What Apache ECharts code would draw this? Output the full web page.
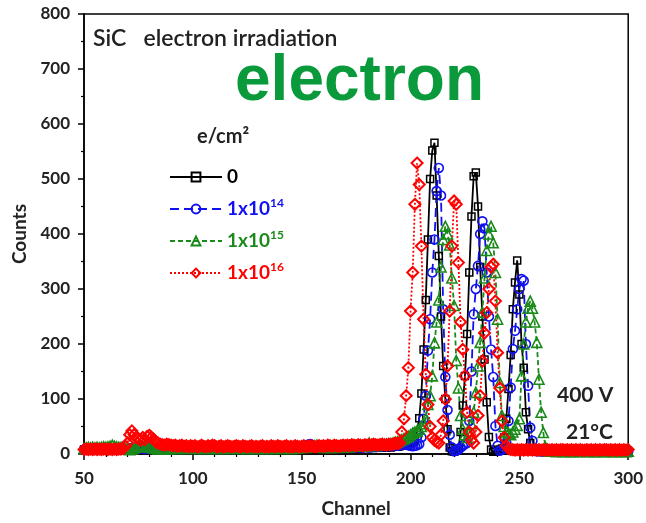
<!DOCTYPE html>
<html>
<head>
<meta charset="utf-8">
<script src="https://cdn.jsdelivr.net/npm/echarts@6/dist/echarts.min.js"></script>
<style>
  html, body { margin: 0; padding: 0; background: #fff; }
  #chart { width: 646px; height: 523px; }
</style>
</head>
<body>
<div id="chart"></div>
<script>
// channel numbers 50..300, one point per channel
const channels = Array.from({ length: 251 }, (_, i) => 50 + i);

// counts, 10 channels per row (50-59, 60-69, ...)
const counts0 = [
  8, 7, 9, 8, 7, 8, 9, 7, 8, 8,
  7, 8, 9, 8, 7, 9, 8, 8, 7, 9,
  9, 10, 9, 8, 10, 9, 8, 9, 10, 9,
  9, 8, 9, 10, 8, 9, 8, 9, 8, 9,
  8, 9, 8, 9, 8, 9, 9, 8, 9, 8,
  9, 8, 9, 8, 9, 8, 8, 9, 8, 9,
  8, 9, 8, 9, 8, 8, 9, 8, 9, 8,
  9, 8, 9, 8, 9, 9, 8, 9, 8, 9,
  8, 9, 8, 9, 8, 9, 8, 9, 8, 9,
  9, 8, 9, 8, 9, 8, 9, 10, 9, 8,
  9, 10, 9, 10, 11, 10, 9, 10, 9, 10,
  10, 9, 10, 9, 10, 11, 10, 10, 9, 10,
  10, 11, 10, 11, 10, 11, 10, 11, 12, 11,
  12, 11, 12, 11, 12, 13, 12, 12, 13, 12,
  13, 12, 13, 14, 13, 14, 15, 15, 16, 18,
  20, 22, 25, 40, 65, 110, 190, 280, 390, 500,
  552, 566, 470, 360, 250, 160, 100, 45, 12, 5,
  4, 6, 10, 40, 88, 142, 218, 330, 432, 505,
  512, 450, 340, 250, 172, 94, 31, 8, 4, 5,
  6, 8, 10, 30, 64, 118, 180, 263, 312, 352,
  290, 200, 157, 76, 45, 20, 8, 5, 4, 5,
  5, 4, 5, 5, 4, 5, 5, 4, 5, 5,
  4, 5, 5, 4, 5, 4, 5, 5, 4, 5,
  5, 4, 5, 5, 4, 5, 4, 5, 5, 4,
  5, 5, 4, 5, 4, 5, 5, 4, 5, 4,
  5
];

const counts1e14 = [
  8, 9, 8, 9, 8, 9, 8, 9, 8, 9,
  9, 8, 9, 8, 9, 8, 9, 8, 9, 8,
  9, 10, 11, 10, 9, 10, 11, 10, 9, 10,
  10, 9, 10, 9, 10, 9, 10, 9, 10, 9,
  9, 10, 9, 10, 9, 10, 9, 10, 9, 10,
  10, 9, 10, 9, 10, 9, 10, 9, 10, 9,
  9, 10, 9, 10, 9, 10, 9, 10, 9, 10,
  10, 9, 10, 9, 10, 9, 10, 9, 10, 9,
  9, 10, 9, 10, 9, 10, 9, 10, 9, 10,
  10, 11, 10, 11, 10, 11, 10, 11, 12, 11,
  12, 13, 15, 17, 18, 16, 14, 13, 12, 12,
  11, 12, 11, 12, 11, 12, 12, 11, 12, 11,
  12, 11, 12, 13, 12, 13, 12, 13, 12, 13,
  13, 12, 13, 14, 13, 14, 13, 14, 15, 14,
  15, 14, 15, 16, 15, 16, 17, 18, 17, 16,
  15, 14, 15, 16, 18, 30, 64, 106, 188, 245,
  330, 390, 478, 520, 470, 263, 140, 80, 35, 12,
  5, 6, 8, 12, 15, 18, 20, 60, 150, 254,
  300, 342, 400, 423, 410, 330, 250, 190, 140, 51,
  15, 6, 8, 12, 20, 60, 121, 191, 224, 263,
  300, 318, 315, 200, 124, 48, 24, 8, 5, 5,
  5, 4, 5, 5, 4, 5, 5, 4, 5, 5,
  4, 5, 5, 4, 5, 4, 5, 5, 4, 5,
  5, 4, 5, 5, 4, 5, 4, 5, 5, 4,
  5, 5, 4, 5, 4, 5, 5, 4, 5, 4,
  5
];

const counts1e15 = [
  10, 11, 12, 11, 12, 11, 12, 11, 12, 13,
  12, 13, 14, 16, 14, 13, 12, 12, 11, 10,
  9, 8, 9, 11, 13, 15, 16, 15, 14, 13,
  14, 12, 11, 10, 9, 10, 9, 10, 9, 10,
  10, 11, 10, 11, 10, 11, 10, 11, 10, 11,
  11, 10, 11, 10, 11, 10, 11, 10, 11, 10,
  10, 11, 10, 11, 10, 11, 10, 11, 10, 11,
  11, 10, 11, 10, 11, 10, 11, 10, 11, 10,
  10, 11, 10, 11, 10, 11, 10, 11, 10, 11,
  11, 10, 11, 10, 11, 10, 11, 10, 11, 12,
  12, 13, 12, 13, 14, 13, 15, 16, 14, 13,
  12, 13, 12, 13, 12, 13, 12, 13, 14, 13,
  13, 14, 13, 14, 15, 14, 15, 16, 15, 14,
  16, 20, 17, 16, 15, 16, 17, 18, 17, 18,
  18, 19, 20, 21, 22, 24, 26, 28, 30, 32,
  35, 38, 40, 42, 45, 50, 55, 64, 90, 106,
  142, 202, 240, 280, 340, 390, 414, 400, 380, 320,
  270, 170, 120, 70, 45, 35, 30, 40, 55, 76,
  112, 160, 203, 258, 320, 370, 400, 414, 384, 330,
  245, 130, 70, 50, 40, 38, 35, 40, 45, 52,
  64, 142, 200, 240, 265, 278, 265, 240, 203, 136,
  76, 39, 12, 6, 5, 5, 5, 4, 5, 5,
  4, 5, 5, 4, 5, 4, 5, 5, 4, 5,
  5, 4, 5, 5, 4, 5, 4, 5, 5, 4,
  5, 5, 4, 5, 4, 5, 5, 4, 5, 4,
  5
];

const counts1e16 = [
  8, 9, 8, 9, 8, 9, 8, 9, 8, 9,
  9, 8, 9, 8, 9, 8, 9, 9, 10, 14,
  20, 35, 42, 35, 30, 28, 25, 30, 26, 32,
  34, 30, 27, 22, 20, 18, 17, 16, 18, 17,
  16, 15, 16, 14, 15, 16, 14, 15, 13, 15,
  14, 15, 13, 14, 16, 14, 13, 15, 14, 16,
  15, 13, 14, 15, 13, 14, 15, 14, 13, 14,
  15, 14, 13, 15, 14, 13, 14, 15, 13, 14,
  13, 14, 15, 13, 14, 13, 15, 14, 13, 15,
  14, 13, 14, 15, 13, 14, 13, 15, 14, 13,
  14, 15, 13, 14, 15, 14, 13, 14, 15, 14,
  15, 14, 16, 15, 14, 16, 15, 14, 15, 16,
  15, 16, 15, 17, 16, 15, 17, 16, 15, 17,
  16, 17, 16, 18, 17, 16, 17, 18, 17, 16,
  18, 17, 18, 20, 19, 20, 40, 64, 106, 157,
  260, 330, 454, 529, 490, 378, 245, 145, 90, 50,
  30, 25, 22, 20, 35, 60, 100, 160, 260, 378,
  460, 454, 348, 240, 190, 142, 76, 40, 25, 20,
  40, 70, 106, 169, 220, 257, 300, 340, 345, 278,
  184, 120, 60, 30, 15, 10, 8, 8, 7, 8,
  7, 8, 7, 8, 7, 8, 7, 8, 7, 8,
  7, 8, 7, 8, 7, 8, 7, 8, 7, 8,
  8, 7, 8, 7, 8, 7, 8, 7, 8, 7,
  7, 8, 7, 8, 7, 8, 7, 8, 7, 8,
  8, 7, 8, 7, 8, 7, 8, 7, 8, 7,
  8
];

const seriesNames = ['0', '1x10{s|14}', '1x10{s|15}', '1x10{s|16}'];
const seriesColors = ['#000000', '#1010f0', '#1a8a1a', '#ff0000'];

const FONT = 'Lato';

function pairs(vals) {
  return channels.map((c, i) => [c, vals[i]]);
}

function mkSeries(name, vals, color, symbol, size, lineType, bw) {
  return {
    name: name,
    type: 'line',
    data: pairs(vals),
    symbol: symbol,
    symbolSize: size,
    showSymbol: true,
    animation: false,
    lineStyle: { color: color, width: 1.8, type: lineType },
    itemStyle: { color: 'rgba(255,255,255,0)', borderColor: color, borderWidth: bw }
  };
}

const chart = echarts.init(document.getElementById('chart'));

const option = {
  backgroundColor: '#fff',
  animation: false,
  grid: {
    left: 84, right: 16, top: 14, bottom: 68,
    show: true, borderColor: '#000', borderWidth: 1.5
  },
  legend: {
    orient: 'vertical',
    left: 164, top: 160,
    itemWidth: 52, itemHeight: 11, itemGap: 8,
    data: seriesNames.map((n, i) => ({ name: n, textStyle: { color: seriesColors[i] } })),
    textStyle: {
      fontFamily: FONT, fontSize: 19, fontWeight: 'bold', lineHeight: 24,
      rich: { s: { fontSize: 12, fontWeight: 'bold', verticalAlign: 'top', lineHeight: 12 } }
    }
  },
  xAxis: {
    type: 'value', min: 50, max: 300, interval: 50,
    name: 'Channel', nameLocation: 'middle', nameGap: 45,
    nameTextStyle: { fontFamily: FONT, fontSize: 19, fontWeight: 'bold', color: '#222' },
    axisLine: { lineStyle: { color: '#000', width: 1.5 } },
    axisTick: { inside: false, length: 6, lineStyle: { color: '#000', width: 1.5 } },
    minorTick: { show: true, splitNumber: 5, length: 3, lineStyle: { color: '#000', width: 1.2 } },
    axisLabel: { fontFamily: FONT, fontSize: 17, fontWeight: 'bold', color: '#222', margin: 16 },
    splitLine: { show: false }
  },
  yAxis: {
    type: 'value', min: 0, max: 800, interval: 100,
    name: 'Counts', nameLocation: 'middle', nameGap: 55,
    nameTextStyle: { fontFamily: FONT, fontSize: 19, fontWeight: 'bold', color: '#222' },
    axisLine: { lineStyle: { color: '#000', width: 1.5 } },
    axisTick: { inside: false, length: 6, lineStyle: { color: '#000', width: 1.5 } },
    minorTick: { show: true, splitNumber: 2, length: 3, lineStyle: { color: '#000', width: 1.2 } },
    axisLabel: { fontFamily: FONT, fontSize: 17, fontWeight: 'bold', color: '#222', margin: 14 },
    splitLine: { show: false }
  },
  graphic: [
    { type: 'text', left: 93, top: 27,
      style: { text: 'SiC   electron irradiation', fontFamily: FONT, fontSize: 23, fontWeight: 600, fill: '#222' } },
    { type: 'text', left: 235, top: 50,
      style: { text: 'electron', fontFamily: 'Liberation Sans', fontSize: 64, fontWeight: 'bold', fill: '#0a9a3c' } },
    { type: 'text', left: 197, top: 127,
      style: { text: 'e/cm²', fontFamily: FONT, fontSize: 20, fontWeight: 'bold', fill: '#222' } },
    { type: 'text', left: 557, top: 385,
      style: { text: '400 V', fontFamily: FONT, fontSize: 21, fontWeight: 'bold', fill: '#222' } },
    { type: 'text', left: 566, top: 422,
      style: { text: '21°C', fontFamily: FONT, fontSize: 21, fontWeight: 'bold', fill: '#222' } }
  ],
  series: [
    mkSeries(seriesNames[0], counts0, seriesColors[0], 'rect', 7, 'solid', 1.5),
    mkSeries(seriesNames[1], counts1e14, seriesColors[1], 'circle', 9, [9, 5], 1.6),
    mkSeries(seriesNames[2], counts1e15, seriesColors[2], 'triangle', 10, [5, 3], 1.6),
    mkSeries(seriesNames[3], counts1e16, seriesColors[3], 'diamond', 11, [2, 2], 2)
  ]
};

chart.setOption(option);
</script>
</body>
</html>
